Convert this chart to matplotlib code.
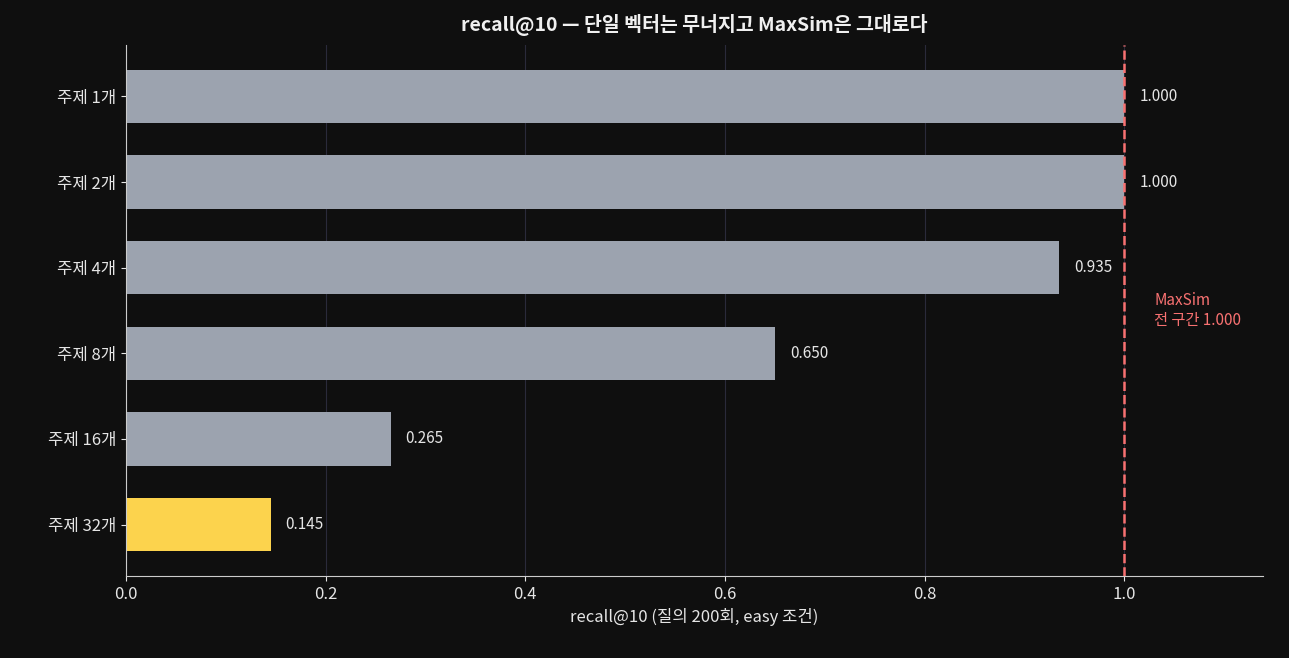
import matplotlib
matplotlib.use("Agg")
import matplotlib.pyplot as plt

plt.rcParams['font.family'] = ['Noto Sans CJK KR', 'DejaVu Sans']

categories = ["주제 1개", "주제 2개", "주제 4개", "주제 8개", "주제 16개", "주제 32개"]
values = [1.000, 1.000, 0.935, 0.650, 0.265, 0.145]
colors = ["#9ca3af"] * 5 + ["#fcd34d"]

bg = "#0f0f0f"
fig = plt.figure(figsize=(12.89, 6.58), dpi=100, facecolor=bg)
ax = fig.add_axes([126/1289, 1-576/658, (1263-126)/1289, (576-45)/658])
ax.set_facecolor(bg)

y = list(range(len(categories)))
ax.barh(y, values, height=0.62, color=colors, zorder=2)
for yi, v in zip(y, values):
    ax.text(v + 0.015, yi, f"{v:.3f}", va="center", ha="left", color="#e5e5e5", fontsize=11)

ax.axvline(1.0, color="#f87171", linestyle="--", linewidth=1.8, zorder=3)
ax.text(1.03, 2.5, "MaxSim\n전 구간 1.000", color="#f87171", fontsize=11, va="center", ha="left")

ax.set_yticks(y)
ax.set_yticklabels(categories)
ax.set_ylim(5.6, -0.6)
ax.set_xlim(0, 1.139)
ax.set_xticks([0, 0.2, 0.4, 0.6, 0.8, 1.0])
ax.set_xticklabels(["0.0", "0.2", "0.4", "0.6", "0.8", "1.0"])
ax.tick_params(colors="#e5e5e5", labelsize=12)
ax.grid(axis="x", color="#2a2a3a", linewidth=0.8, zorder=0)
for s in ["top", "right"]:
    ax.spines[s].set_visible(False)
for s in ["left", "bottom"]:
    ax.spines[s].set_color("#cccccc")
ax.set_xlabel("recall@10 (질의 200회, easy 조건)", color="#e5e5e5", fontsize=12)
ax.set_title("recall@10 — 단일 벡터는 무너지고 MaxSim은 그대로다", color="#f0f0f0",
             fontsize=14, fontweight="bold", pad=10)

fig.savefig("out.png", dpi=100, facecolor=bg)
